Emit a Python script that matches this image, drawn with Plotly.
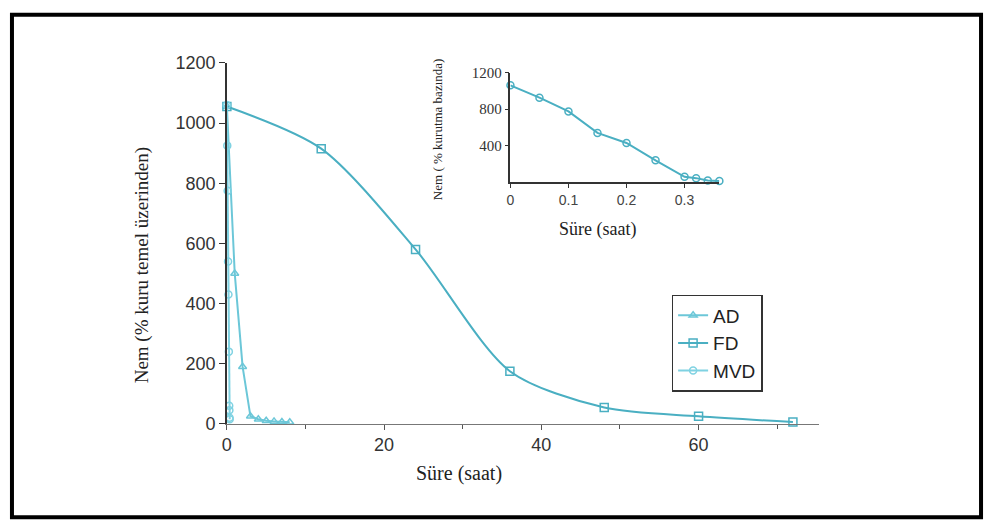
import plotly.graph_objects as go

# ---- data ----
ad_x = [0, 1, 2, 3, 4, 5, 6, 7, 8]
ad_y = [1055, 500, 190, 25, 15, 10, 8, 6, 5]

fd_x = [0, 12, 24, 36, 48, 60, 72]
fd_y = [1055, 915, 580, 175, 54, 25, 6]

mvd_x = [0, 0.05, 0.1, 0.15, 0.2, 0.25, 0.3, 0.32, 0.34, 0.36]
mvd_y = [1060, 925, 775, 540, 430, 240, 60, 45, 20, 15]

main_xticks = [0, 20, 40, 60]
main_yticks = [0, 200, 400, 600, 800, 1000, 1200]
inset_xticks = [0, 0.1, 0.2, 0.3]
inset_yticks = [400, 800, 1200]

W, H = 988, 531
SERIF = "Liberation Serif"
SANS = "Liberation Sans"
C_AD = "#6cc7d8"
C_FD = "#4aafc2"
C_MVD = "#7fd2e2"


def px(x):
    return x / W


def py(y):
    return 1 - y / H


fig = go.Figure()
fig.add_trace(go.Scatter(x=ad_x, y=ad_y, name="AD", mode="lines+markers",
                         line=dict(color=C_AD, width=2),
                         marker=dict(symbol="triangle-up-open", size=7, color=C_AD, line=dict(width=1.5)),
                         cliponaxis=False))
fig.add_trace(go.Scatter(x=fd_x, y=fd_y, name="FD", mode="lines+markers",
                         line=dict(color=C_FD, width=2, shape="spline", smoothing=0.8),
                         marker=dict(symbol="square-open", size=8, color=C_FD, line=dict(width=1.5)),
                         cliponaxis=False))
fig.add_trace(go.Scatter(x=mvd_x, y=mvd_y, name="MVD", mode="lines+markers",
                         line=dict(color=C_MVD, width=2),
                         marker=dict(symbol="circle-open", size=7, color=C_MVD, line=dict(width=1.5)),
                         cliponaxis=False))
# inset
fig.add_trace(go.Scatter(x=mvd_x, y=mvd_y, name="MVD inset", mode="lines+markers",
                         xaxis="x2", yaxis="y2", showlegend=False,
                         line=dict(color=C_FD, width=2),
                         marker=dict(symbol="circle-open", size=7, color=C_FD, line=dict(width=1.5)),
                         cliponaxis=False))

fig.update_layout(
    width=W, height=H,
    margin=dict(l=0, r=0, t=0, b=0),
    paper_bgcolor="white", plot_bgcolor="white",
    showlegend=True,
    legend=dict(x=px(670), y=py(296), xanchor="left", yanchor="top",
                bordercolor="#333", borderwidth=1.5, bgcolor="white",
                font=dict(family=SANS, size=19, color="#222"),
                itemwidth=30, tracegroupgap=0),
    xaxis=dict(domain=[px(223), px(818)], range=[0, 75.3],
               tickvals=main_xticks, ticks="outside", ticklen=5, tickcolor="#555",
               showline=True, linecolor="#777", linewidth=1, showgrid=False, zeroline=False,
               tickfont=dict(family=SANS, size=18, color="#333"),
               minor=dict(tickvals=[10, 30, 50, 70], ticks="outside", ticklen=4, tickcolor="#555")),
    yaxis=dict(domain=[py(430), py(55)], range=[0, 1200],
               tickvals=main_yticks, ticks="outside", ticklen=6, tickcolor="#333",
               showline=True, linecolor="#333", linewidth=1.5, showgrid=False, zeroline=False,
               tickfont=dict(family=SANS, size=18, color="#333")),
    xaxis2=dict(domain=[px(508), px(718)], range=[0, 0.36], anchor="y2",
                tickvals=inset_xticks, ticktext=["0", "0.1", "0.2", "0.3"],
                ticks="outside", ticklen=4, tickcolor="#333",
                showline=True, linecolor="#333", linewidth=1.5, showgrid=False, zeroline=False,
                tickfont=dict(family=SANS, size=14, color="#444")),
    yaxis2=dict(domain=[py(179), py(65)], range=[0, 1200], anchor="x2",
                tickvals=inset_yticks, ticks="outside", ticklen=4, tickcolor="#333",
                showline=True, linecolor="#333", linewidth=1.5, showgrid=False, zeroline=False,
                tickfont=dict(family=SERIF, size=15, color="#333")),
    shapes=[dict(type="rect", xref="paper", yref="paper",
                 x0=px(7), x1=px(981), y0=py(527), y1=py(5),
                 line=dict(color="black", width=4))],
    annotations=[
        dict(text="Nem (% kuru temel üzerinden)", xref="paper", yref="paper",
             x=px(138), y=py(265), xanchor="center", yanchor="middle",
             textangle=-90, showarrow=False,
             font=dict(family=SERIF, size=19, color="#222")),
        dict(text="Süre (saat)", xref="paper", yref="paper",
             x=px(456), y=py(482), xanchor="center", yanchor="middle", showarrow=False,
             font=dict(family=SERIF, size=20, color="#222")),
        dict(text="Nem ( % kurutma bazında)", xref="paper", yref="paper",
             x=px(435), y=py(124), xanchor="center", yanchor="middle",
             textangle=-90, showarrow=False,
             font=dict(family=SERIF, size=13, color="#222")),
        dict(text="Süre (saat)", xref="paper", yref="paper",
             x=px(596), y=py(228), xanchor="center", yanchor="middle", showarrow=False,
             font=dict(family=SERIF, size=18, color="#222")),
    ],
)

fig.write_html("out.html")
